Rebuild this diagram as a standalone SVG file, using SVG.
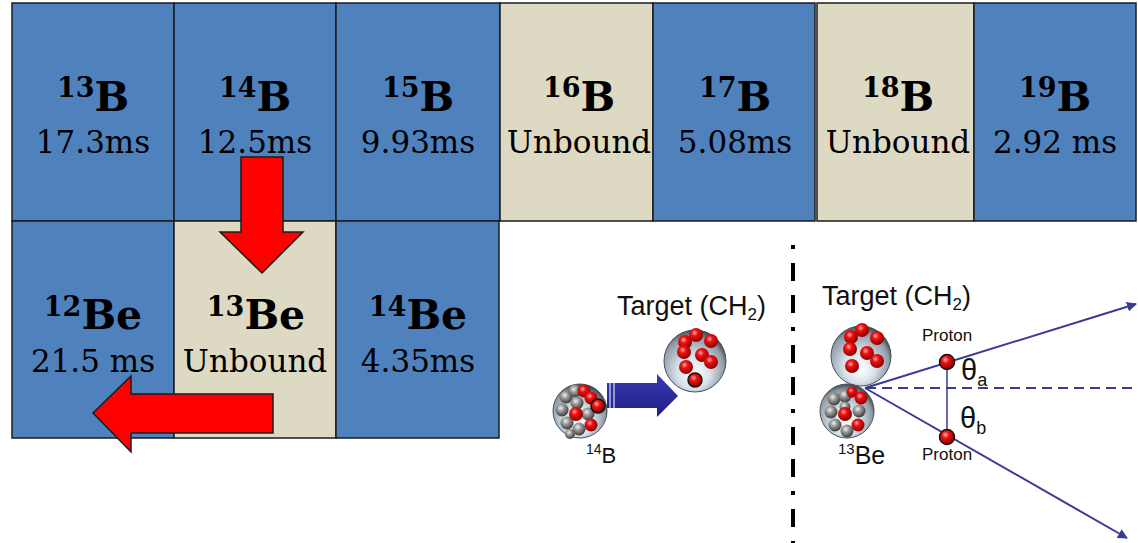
<svg xmlns="http://www.w3.org/2000/svg" width="1138" height="543" viewBox="0 0 1138 543">
  <defs>
    <style>
      .blue { fill: #4F81BD; stroke: #1b1b1b; stroke-width: 1.5; }
      .tan { fill: #DDD9C3; stroke: #1b1b1b; stroke-width: 1.5; }
      .iso { font-family: "DejaVu Serif", "Liberation Serif", serif; font-weight: bold; font-size: 41px; fill: #000; text-anchor: middle; }
      .mass { font-size: 27px; }
      .life { font-family: "DejaVu Serif", "Liberation Serif", serif; font-size: 31px; fill: #000; text-anchor: middle; }
      .decay { fill: #FF0000; stroke: #1b1b1b; stroke-width: 1.5; stroke-linejoin: miter; }
      .sans { font-family: "Liberation Sans", Arial, sans-serif; fill: #111; }
      .track { stroke: #3a3a96; stroke-width: 2; fill: none; }
      .beam { stroke: #3a3a96; stroke-width: 2; fill: none; stroke-dasharray: 10 6; }
      .shell { fill: url(#shellGrad); stroke: #4a4f58; stroke-width: 1; }
      .p { fill: url(#protonGrad); }
      .n { fill: url(#neutronGrad); }
      .pout { fill: url(#protonGrad); stroke: #111; stroke-width: 1.5; }
    </style>
    <radialGradient id="shellGrad" cx="0.45" cy="0.6" r="0.6" fx="0.5" fy="0.75">
      <stop offset="0" stop-color="#ffffff"/>
      <stop offset="0.45" stop-color="#d6e1ea"/>
      <stop offset="0.85" stop-color="#8e9aa6"/>
      <stop offset="1" stop-color="#3e4550"/>
    </radialGradient>
    <radialGradient id="protonGrad" cx="0.4" cy="0.35" r="0.65">
      <stop offset="0" stop-color="#ffb0b0"/>
      <stop offset="0.35" stop-color="#f01010"/>
      <stop offset="1" stop-color="#8a0000"/>
    </radialGradient>
    <radialGradient id="neutronGrad" cx="0.4" cy="0.35" r="0.65">
      <stop offset="0" stop-color="#f0f0f0"/>
      <stop offset="0.4" stop-color="#9a9a9a"/>
      <stop offset="1" stop-color="#3c3c3c"/>
    </radialGradient>
    <linearGradient id="beamGrad" x1="0" y1="0" x2="0" y2="1">
      <stop offset="0" stop-color="#3a3ab0"/>
      <stop offset="1" stop-color="#1e1e86"/>
    </linearGradient>
    <marker id="tip" viewBox="0 0 10 10" refX="9" refY="5" markerWidth="5" markerHeight="5" orient="auto">
      <path d="M0,0 L10,5 L0,10 z" fill="#3a3a96"/>
    </marker>
  </defs>

  <rect width="1138" height="543" fill="#ffffff"/>

  <!-- Boron isotopes, top row -->
  <g id="b13">
    <rect class="blue" x="12" y="3" width="162" height="218"/>
    <text class="iso" x="93" y="111"><tspan class="mass" dy="-14">13</tspan><tspan dy="14">B</tspan></text>
    <text class="life" x="93" y="153">17.3ms</text>
  </g>
  <g id="b14">
    <rect class="blue" x="174" y="3" width="162" height="218"/>
    <text class="iso" x="255" y="111"><tspan class="mass" dy="-14">14</tspan><tspan dy="14">B</tspan></text>
    <text class="life" x="255" y="153">12.5ms</text>
  </g>
  <g id="b15">
    <rect class="blue" x="336" y="3" width="164" height="218"/>
    <text class="iso" x="418" y="111"><tspan class="mass" dy="-14">15</tspan><tspan dy="14">B</tspan></text>
    <text class="life" x="418" y="153">9.93ms</text>
  </g>
  <g id="b16">
    <rect class="tan" x="500" y="3" width="153" height="218"/>
    <text class="iso" x="579" y="111"><tspan class="mass" dy="-14">16</tspan><tspan dy="14">B</tspan></text>
    <text class="life" x="579" y="153">Unbound</text>
  </g>
  <g id="b17">
    <rect class="blue" x="653" y="3" width="162" height="218"/>
    <text class="iso" x="735" y="111"><tspan class="mass" dy="-14">17</tspan><tspan dy="14">B</tspan></text>
    <text class="life" x="735" y="153">5.08ms</text>
  </g>
  <g id="b18">
    <rect class="tan" x="817" y="3" width="157" height="218"/>
    <text class="iso" x="898" y="111"><tspan class="mass" dy="-14">18</tspan><tspan dy="14">B</tspan></text>
    <text class="life" x="898" y="153">Unbound</text>
  </g>
  <g id="b19">
    <rect class="blue" x="974" y="3" width="162" height="218"/>
    <text class="iso" x="1055" y="111"><tspan class="mass" dy="-14">19</tspan><tspan dy="14">B</tspan></text>
    <text class="life" x="1055" y="153">2.92 ms</text>
  </g>

  <!-- Beryllium isotopes, bottom row -->
  <g id="be12">
    <rect class="blue" x="12" y="221" width="162" height="217"/>
    <text class="iso" x="93" y="329"><tspan class="mass" dy="-13">12</tspan><tspan dy="13">Be</tspan></text>
    <text class="life" x="93" y="372">21.5 ms</text>
  </g>
  <g id="be13">
    <rect class="tan" x="174" y="221" width="162" height="217"/>
    <text class="iso" x="256" y="329"><tspan class="mass" dy="-13">13</tspan><tspan dy="13">Be</tspan></text>
    <text class="life" x="255" y="372">Unbound</text>
  </g>
  <g id="be14">
    <rect class="blue" x="336" y="221" width="163" height="217"/>
    <text class="iso" x="418" y="329"><tspan class="mass" dy="-13">14</tspan><tspan dy="13">Be</tspan></text>
    <text class="life" x="418" y="372">4.35ms</text>
  </g>

  <!-- Decay path arrows -->
  <g id="connectors">
    <polygon class="decay" points="241,157 283,157 283,232 303,232 262,273 220,232 241,232"/>
    <polygon class="decay" points="273,394 131,394 131,376 93,413 131,452 131,433 273,433"/>
  </g>

  <!-- Incoming beam on target -->
  <g id="beam-scene">
    <g id="b14-nucleus">
      <circle class="shell" cx="580" cy="411" r="27"/>
      <circle class="n" cx="566" cy="397" r="6.5"/>
      <circle class="n" cx="575" cy="391" r="6.5"/>
      <circle class="n" cx="562" cy="410" r="6.5"/>
      <circle class="n" cx="567" cy="423" r="6.5"/>
      <circle class="n" cx="579" cy="429" r="6.5"/>
      <circle class="n" cx="588" cy="414" r="6.5"/>
      <circle class="n" cx="577" cy="403" r="6.5"/>
      <circle class="n" cx="570" cy="434" r="5"/>
      <circle class="p" cx="584" cy="391" r="6.5"/>
      <circle class="p" cx="591" cy="398" r="6.5"/>
      <circle class="p" cx="576" cy="414" r="7"/>
      <circle class="p" cx="591" cy="425" r="6.5"/>
      <circle class="pout" cx="598" cy="406" r="7"/>
      <text class="sans" x="586" y="463" font-size="22"><tspan font-size="14" dy="-9">14</tspan><tspan dy="9">B</tspan></text>
    </g>
    <g id="beam-arrow">
      <polygon points="607,383 657,383 657,374 678,396 657,417 657,408 607,408" fill="url(#beamGrad)"/>
      <line x1="610" y1="383" x2="610" y2="408" stroke="#ffffff" stroke-width="1"/>
      <line x1="614" y1="383" x2="614" y2="408" stroke="#ffffff" stroke-width="1"/>
    </g>
    <g id="target-left">
      <circle class="shell" cx="695" cy="361" r="31"/>
      <circle class="p" cx="685" cy="342" r="7"/>
      <circle class="p" cx="696" cy="335" r="7"/>
      <circle class="p" cx="711" cy="341" r="7"/>
      <circle class="p" cx="684" cy="352" r="7"/>
      <circle class="p" cx="702" cy="355" r="7"/>
      <circle class="p" cx="711" cy="362" r="7"/>
      <circle class="p" cx="686" cy="367" r="7"/>
      <circle class="pout" cx="695" cy="380" r="7"/>
      <text class="sans" x="617" y="315" font-size="27">Target (CH<tspan font-size="17" dy="5">2</tspan><tspan dy="-5">)</tspan></text>
    </g>
  </g>

  <!-- Separator -->
  <line id="separator" x1="793" y1="245" x2="793" y2="543" stroke="#000" stroke-width="4" stroke-dasharray="4 14 18 14 18 14" />

  <!-- Knockout reaction: two protons out -->
  <g id="knockout-scene">
    <text class="sans" x="822" y="305" font-size="27">Target (CH<tspan font-size="17" dy="5">2</tspan><tspan dy="-5">)</tspan></text>
    <line class="beam" x1="866" y1="388" x2="1138" y2="388"/>
    <line class="track" x1="865" y1="388" x2="1136" y2="304" marker-end="url(#tip)"/>
    <line class="track" x1="865" y1="388" x2="1127" y2="538" marker-end="url(#tip)"/>
    <line x1="947" y1="362" x2="947" y2="437" stroke="#3a3a96" stroke-width="1.5"/>
    <g id="target-right">
      <circle class="shell" cx="861" cy="356" r="30"/>
      <circle class="p" cx="851" cy="337" r="7"/>
      <circle class="p" cx="862" cy="330" r="7"/>
      <circle class="p" cx="877" cy="338" r="7"/>
      <circle class="p" cx="850" cy="349" r="7"/>
      <circle class="p" cx="867" cy="353" r="7"/>
      <circle class="p" cx="877" cy="361" r="7"/>
      <circle class="p" cx="852" cy="366" r="7"/>
    </g>
    <g id="be13-nucleus">
      <circle class="shell" cx="847" cy="411" r="27"/>
      <circle class="n" cx="834" cy="399" r="6.5"/>
      <circle class="n" cx="845" cy="396" r="6.5"/>
      <circle class="n" cx="831" cy="412" r="6.5"/>
      <circle class="n" cx="835" cy="425" r="6.5"/>
      <circle class="n" cx="847" cy="431" r="6.5"/>
      <circle class="n" cx="859" cy="411" r="6.5"/>
      <circle class="n" cx="845" cy="407" r="5.5"/>
      <circle class="p" cx="852" cy="392" r="5.5"/>
      <circle class="p" cx="861" cy="398" r="6.5"/>
      <circle class="p" cx="845" cy="414" r="7"/>
      <circle class="p" cx="858" cy="425" r="6.5"/>
      <text class="sans" x="838" y="464" font-size="25"><tspan font-size="15" dy="-10">13</tspan><tspan dy="10">Be</tspan></text>
    </g>
    <g id="proton-a">
      <circle class="pout" cx="947" cy="362" r="7.5"/>
      <text class="sans" x="922" y="341" font-size="17">Proton</text>
    </g>
    <g id="proton-b">
      <circle class="pout" cx="947" cy="437" r="7.5"/>
      <text class="sans" x="922" y="460" font-size="17">Proton</text>
    </g>
    <text class="sans" x="961" y="380" font-size="29">θ<tspan font-size="18" dy="6">a</tspan></text>
    <text class="sans" x="960" y="428" font-size="29">θ<tspan font-size="18" dy="6">b</tspan></text>
  </g>
</svg>
